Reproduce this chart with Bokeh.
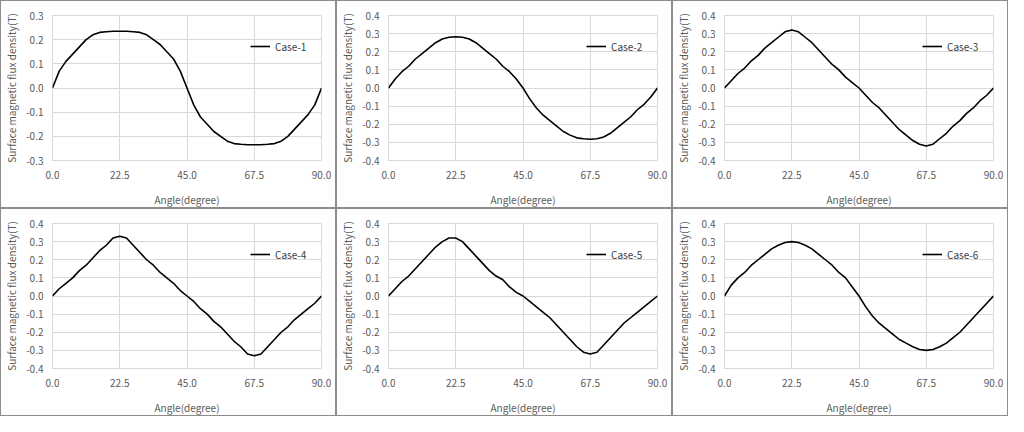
from bokeh.plotting import figure
from bokeh.layouts import gridplot
from bokeh.models import Range1d, FixedTicker, NumeralTickFormatter, Legend, LegendItem
from bokeh.embed import file_html
from bokeh.resources import INLINE

angle = [0, 2.25, 4.5, 6.75, 9, 11.25, 13.5, 15.75, 18, 20.25, 22.5, 24.75, 27, 29.25,
         31.5, 33.75, 36, 38.25, 40.5, 42.75, 45, 47.25, 49.5, 51.75, 54, 56.25, 58.5,
         60.75, 63, 65.25, 67.5, 69.75, 72, 74.25, 76.5, 78.75, 81, 83.25, 85.5, 87.75, 90]

case1 = [0, 0.07, 0.11, 0.14, 0.17, 0.20, 0.22, 0.23, 0.233, 0.235, 0.235, 0.235, 0.233,
         0.23, 0.22, 0.20, 0.18, 0.15, 0.12, 0.07, 0.0, -0.07, -0.12, -0.15, -0.18, -0.20,
         -0.22, -0.23, -0.233, -0.235, -0.235, -0.235, -0.233, -0.23, -0.22, -0.20, -0.17,
         -0.14, -0.11, -0.07, 0]
case2 = [0, 0.05, 0.09, 0.12, 0.16, 0.19, 0.22, 0.25, 0.27, 0.28, 0.283, 0.28, 0.27, 0.25,
         0.22, 0.19, 0.16, 0.12, 0.09, 0.05, 0, -0.06, -0.11, -0.15, -0.18, -0.21, -0.24,
         -0.26, -0.275, -0.28, -0.283, -0.28, -0.27, -0.25, -0.22, -0.19, -0.16, -0.12,
         -0.09, -0.05, 0]
case3 = [0, 0.04, 0.08, 0.11, 0.15, 0.18, 0.22, 0.25, 0.28, 0.31, 0.32, 0.31, 0.28, 0.25,
         0.21, 0.17, 0.13, 0.10, 0.06, 0.03, 0, -0.04, -0.08, -0.11, -0.15, -0.19, -0.23,
         -0.26, -0.29, -0.31, -0.32, -0.31, -0.28, -0.25, -0.21, -0.18, -0.14, -0.11,
         -0.07, -0.04, 0]
case4 = [0, 0.04, 0.07, 0.10, 0.14, 0.17, 0.21, 0.25, 0.28, 0.32, 0.33, 0.32, 0.28, 0.24,
         0.20, 0.17, 0.13, 0.10, 0.07, 0.03, 0, -0.03, -0.07, -0.10, -0.14, -0.17, -0.21,
         -0.25, -0.28, -0.32, -0.33, -0.32, -0.28, -0.24, -0.20, -0.17, -0.13, -0.10,
         -0.07, -0.04, 0]
case5 = [0, 0.04, 0.08, 0.11, 0.15, 0.19, 0.23, 0.27, 0.30, 0.32, 0.32, 0.30, 0.26, 0.22,
         0.18, 0.14, 0.11, 0.09, 0.05, 0.02, 0, -0.03, -0.06, -0.09, -0.12, -0.16, -0.20,
         -0.24, -0.28, -0.31, -0.32, -0.31, -0.27, -0.23, -0.19, -0.15, -0.12, -0.09,
         -0.06, -0.03, 0]
case6 = [0, 0.06, 0.10, 0.13, 0.17, 0.20, 0.23, 0.26, 0.28, 0.295, 0.30, 0.295, 0.28,
         0.26, 0.23, 0.20, 0.17, 0.13, 0.10, 0.05, 0, -0.06, -0.11, -0.15, -0.18, -0.21,
         -0.24, -0.26, -0.28, -0.295, -0.30, -0.295, -0.28, -0.26, -0.23, -0.20, -0.16,
         -0.12, -0.08, -0.04, 0]

names = ["Case-1", "Case-2", "Case-3", "Case-4", "Case-5", "Case-6"]
series = [case1, case2, case3, case4, case5, case6]
ylims = [0.3, 0.4, 0.4, 0.4, 0.4, 0.4]
x_ticks = [0, 22.5, 45, 67.5, 90]

GRID = "#d9d9d9"
TXT = "#595959"
FONT = "Noto Sans CJK JP"


def panel(name, ys, lim):
    p = figure(width=336, height=208, output_backend="svg", toolbar_location=None,
               x_range=Range1d(0, 90), y_range=Range1d(-lim, lim),
               min_border_left=4, min_border_right=16, min_border_top=14, min_border_bottom=6,
               x_axis_label="Angle(degree)", y_axis_label="Surface magnetic flux density(T)",
               styles={"border": "1px solid #8c8c8c", "box-sizing": "border-box"})
    r = p.line(angle, ys, line_color="black", line_width=1.6)
    p.xaxis.ticker = FixedTicker(ticks=x_ticks)
    p.yaxis.ticker = FixedTicker(ticks=[round(-lim + 0.1 * i, 1) for i in range(int(round(lim * 20)) + 1)])
    p.xaxis.formatter = NumeralTickFormatter(format="0.0")
    p.yaxis.formatter = NumeralTickFormatter(format="0.0")
    for ax in (p.xaxis[0], p.yaxis[0]):
        ax.axis_line_color = None
        ax.major_tick_line_color = None
        ax.minor_tick_line_color = None
        ax.major_label_text_color = TXT
        ax.major_label_text_font = FONT
        ax.major_label_text_font_size = "10px"
        ax.axis_label_text_color = TXT
        ax.axis_label_text_font = FONT
        ax.axis_label_text_font_size = "10px"
        ax.axis_label_text_font_style = "normal"
    p.xaxis.major_label_standoff = 4
    p.xaxis.axis_label_standoff = 10
    p.yaxis.major_label_standoff = 3
    p.yaxis.axis_label_standoff = 4
    p.xgrid.grid_line_color = GRID
    p.ygrid.grid_line_color = GRID
    p.outline_line_color = GRID
    leg = Legend(items=[LegendItem(label=name, renderers=[r])], location=(198, 104),
                 border_line_color=None, background_fill_alpha=0,
                 label_text_font=FONT, label_text_font_size="10px", label_text_color="#404040",
                 glyph_width=20, padding=0, margin=0)
    p.add_layout(leg)
    return p


plots = [panel(n, s, l) for n, s, l in zip(names, series, ylims)]
p = gridplot([plots[:3], plots[3:]], toolbar_location=None)
open("out.html", "w").write(file_html(p, INLINE))
